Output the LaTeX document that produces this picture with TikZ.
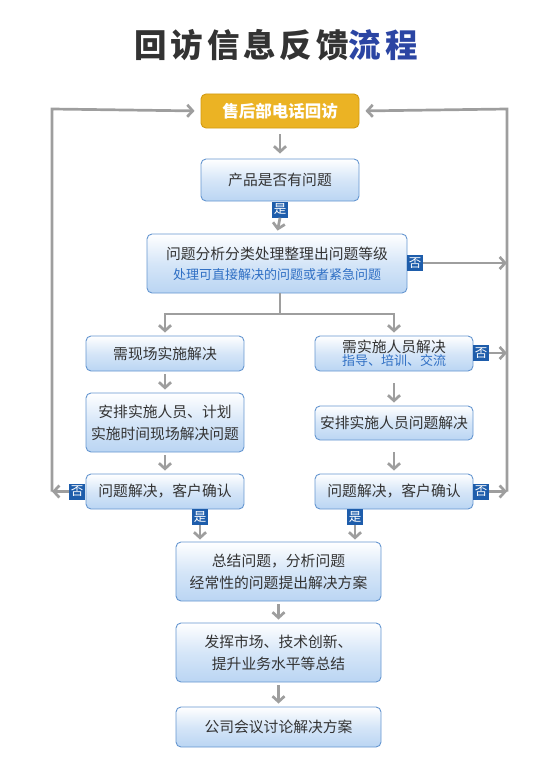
\documentclass[tikz,border=0pt]{standalone}
\usepackage{fontspec}
\setmainfont{Noto Sans CJK SC}
\usetikzlibrary{arrows.meta,calc}
\definecolor{txt}{HTML}{333333}
\definecolor{subblue}{HTML}{2F6FC4}
\definecolor{titleblue}{HTML}{2B45A3}
\definecolor{boxline}{HTML}{6596D0}
\definecolor{boxbot}{HTML}{BAD5F3}
\definecolor{gold}{HTML}{EBB324}
\definecolor{goldline}{HTML}{D29A12}
\definecolor{tagblue}{HTML}{1E5DAB}
\definecolor{arrgray}{HTML}{9E9E9E}
\tikzset{
  x=1pt, y=-1pt,
  procbox/.style={draw=boxline, line width=0.9pt, rounded corners=5pt,
    top color=white, bottom color=boxbot, middle color=white!40!boxbot,
    text=txt, align=center, inner sep=0pt,
    font=\fontsize{14.8}{22}\selectfont},
  startbox/.style={draw=goldline, line width=0.9pt, rounded corners=5pt,
    fill=gold, text=white, align=center, inner sep=0pt,
    font=\fontsize{16.5}{20}\selectfont\bfseries},
  tag/.style={fill=tagblue, text=white, inner sep=0pt,
    minimum width=16pt, minimum height=16pt,
    font=\fontsize{12.5}{13}\selectfont},
  conn/.style={draw=arrgray, line width=2.7pt},
  arr/.style={conn, -{Straight Barb[length=5.5pt,width=12pt]}},
}
\newcommand{\subtxt}[1]{{\color{subblue}\fontsize{13}{16}\selectfont #1}}
\begin{document}
\begin{tikzpicture}
\useasboundingbox (0,0) rectangle (552,781);
% title
\node (title) at (276,45) {\fontsize{32.5}{36}\selectfont\bfseries\addfontfeature{LetterSpace=12}{\color{txt}回访信息反馈}{\color{titleblue}流程}};

% boxes
\node[startbox, minimum width=158pt, minimum height=34pt] (top) at (280,111) {售后部电话回访};
\node[procbox, minimum width=158pt, minimum height=42pt] (b2) at (280,180) {产品是否有问题};
\node[procbox, minimum width=260pt, minimum height=59pt] (b3) at (277,263.5) {问题分析分类处理整理出问题等级\\[-2pt]\subtxt{处理可直接解决的问题或者紧急问题}};
\node[procbox, minimum width=158pt, minimum height=35pt] (b4L) at (165,353.5) {需现场实施解决};
\node[procbox, minimum width=158pt, minimum height=35pt, font=\fontsize{14.8}{16}\selectfont] (b4R) at (394,353.5) {需实施人员解决\\[-3pt]\subtxt{指导、培训、交流}};
\node[procbox, minimum width=158pt, minimum height=59pt] (b5L) at (165,422.5) {安排实施人员、计划\\实施时间现场解决问题};
\node[procbox, minimum width=158pt, minimum height=34pt] (b5R) at (394,423) {安排实施人员问题解决};
\node[procbox, minimum width=158pt, minimum height=35pt] (b6L) at (165,491.5) {问题解决，客户确认};
\node[procbox, minimum width=158pt, minimum height=35pt] (b6R) at (394,491.5) {问题解决，客户确认};
\node[procbox, minimum width=205pt, minimum height=59pt] (b7) at (278.5,571.5) {总结问题，分析问题\\经常性的问题提出解决方案};
\node[procbox, minimum width=205pt, minimum height=59pt] (b8) at (278.5,652.5) {发挥市场、技术创新、\\提升业务水平等总结};
\node[procbox, minimum width=205pt, minimum height=40pt] (b9) at (278.5,727) {公司会议讨论解决方案};

% tags
\node[tag] (y2) at (280,209.5) {是};
\node[tag] (n3) at (415,263) {否};
\node[tag] (n4R) at (481,353) {否};
\node[tag] (n6L) at (77,491.5) {否};
\node[tag] (n6R) at (481,491.5) {否};
\node[tag] (y6L) at (200,517) {是};
\node[tag] (y6R) at (355,517) {是};

% helper coordinates
\coordinate (LT) at (52,109);
\coordinate (RT) at (507,109);
\coordinate (LB) at (52,491.5);
\coordinate (RB) at (507,491.5);
\coordinate (sp) at (280,314);

% connectors
\draw[arr, shorten <=6pt, shorten >=5pt] (top.south) -- (b2.north);
\draw[arr, shorten >=3pt] (y2.south) -- (b3.north);
\draw[conn] (b3.south -| sp) -- (sp);
\draw[arr, shorten >=3pt] (sp) -| (b4L.north);
\draw[arr, shorten >=3pt] (sp) -| (b4R.north);
\draw[arr, shorten <=3pt, shorten >=3pt] (b4L) -- (b5L);
\draw[arr, shorten <=3pt, shorten >=3pt] (b5L) -- (b6L);
\draw[arr, shorten <=12pt, shorten >=3pt] (b4R) -- (b5R);
\draw[arr, shorten <=12pt, shorten >=3pt] (b5R) -- (b6R);
\draw[arr, shorten >=2pt] (y6L.south) -- (y6L.south |- b7.north);
\draw[arr, shorten >=2pt] (y6R.south) -- (y6R.south |- b7.north);
\draw[arr, shorten <=3pt, shorten >=3pt] (b7) -- (b8);
\draw[arr, shorten <=3pt, shorten >=3pt] (b8) -- (b9);

\draw[arr] (n3.east) -- (n3.east -| RT);
\draw[arr] (n4R.east) -- (n4R.east -| RT);
\draw[arr] (n6R.east) -- (RB);
\draw[arr] (n6L.west) -- (LB);
\draw[arr, shorten >=6pt] (RB) -- (RT) -- (top.east);
\draw[arr, shorten >=6pt] (LB) -- (LT) -- (top.west);
\end{tikzpicture}
\end{document}
